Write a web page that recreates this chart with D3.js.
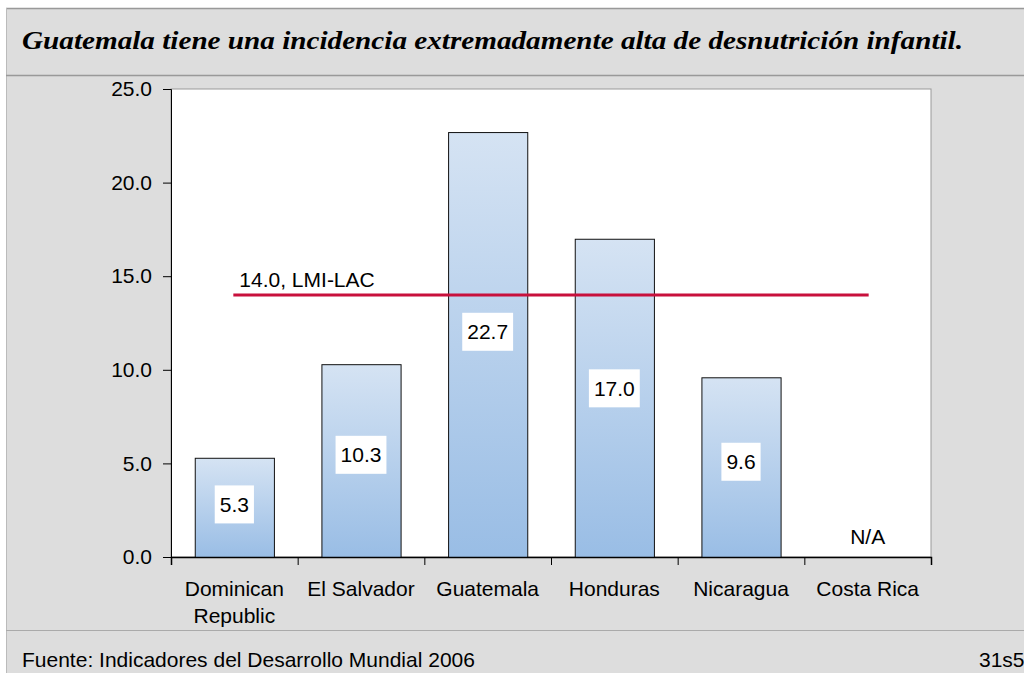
<!DOCTYPE html>
<html>
<head>
<meta charset="utf-8">
<script src="https://cdn.jsdelivr.net/npm/d3@7"></script>
<style>
  html, body { margin: 0; padding: 0; background: #ffffff; }
  svg { display: block; font-family: "Liberation Sans", Arial, sans-serif; }
  .title { font-family: "Liberation Serif", "Times New Roman", Times, serif; font-style: italic; font-weight: bold; }
</style>
</head>
<body>
<div id="chart"></div>
<script>
// Data
const countries = ['Dominican Republic', 'El Salvador', 'Guatemala', 'Honduras', 'Nicaragua', 'Costa Rica'];
const values = [5.3, 10.3, 22.7, 17.0, 9.6, null];
const yTicks = [0, 5, 10, 15, 20, 25];
const refValue = 14.0;
const refLabel = '14.0, LMI-LAC';
const title = 'Guatemala tiene una incidencia extremadamente alta de desnutrición infantil.';
const source = 'Fuente: Indicadores del Desarrollo Mundial 2006';
const pageCode = '31s5';

const width = 1024;
const height = 673;
const plot = { left: 171, right: 931, top: 89, bottom: 557 };
const fontSize = '21px';

const svg = d3.select('#chart')
    .append('svg')
    .attr('width', width)
    .attr('height', height);

// Gradient for bars
const grad = svg.append('defs')
    .append('linearGradient')
    .attr('id', 'barFill')
    .attr('x1', 0).attr('y1', 0)
    .attr('x2', 0).attr('y2', 1);
grad.append('stop').attr('offset', '0%').attr('stop-color', '#d5e3f3');
grad.append('stop').attr('offset', '100%').attr('stop-color', '#99bde5');

// Slide background and frame
svg.append('rect')
    .attr('x', 6).attr('y', 8)
    .attr('width', width - 6).attr('height', height - 8)
    .attr('fill', '#dddddd');
svg.append('line')
    .attr('x1', 6).attr('x2', width).attr('y1', 8.5).attr('y2', 8.5)
    .attr('stroke', '#999999').attr('stroke-width', 1.5);
svg.append('line')
    .attr('x1', 6.5).attr('x2', 6.5).attr('y1', 8).attr('y2', height)
    .attr('stroke', '#bbbbbb').attr('stroke-width', 1);
svg.append('line')
    .attr('x1', 6).attr('x2', width).attr('y1', 75.5).attr('y2', 75.5)
    .attr('stroke', '#999999').attr('stroke-width', 1.5);
svg.append('line')
    .attr('x1', 6).attr('x2', width).attr('y1', 630.5).attr('y2', 630.5)
    .attr('stroke', '#aaaaaa').attr('stroke-width', 1);

// Title
svg.append('text')
    .attr('class', 'title')
    .attr('x', 22)
    .attr('y', 49)
    .attr('textLength', 941)
    .attr('lengthAdjust', 'spacingAndGlyphs')
    .attr('font-size', 25)
    .attr('fill', '#000000')
    .text(title);

// Plot area
svg.append('rect')
    .attr('x', plot.left).attr('y', plot.top)
    .attr('width', plot.right - plot.left).attr('height', plot.bottom - plot.top)
    .attr('fill', '#ffffff')
    .attr('stroke', '#999999').attr('stroke-width', 1);

// Scales
const x = d3.scaleBand()
    .domain(countries)
    .range([plot.left, plot.right])
    .paddingInner(0.375)
    .paddingOuter(0.1875);

const xEdge = d3.scaleLinear()
    .domain([0, countries.length])
    .range([plot.left, plot.right]);

const y = d3.scaleLinear()
    .domain([0, 25])
    .range([plot.bottom, plot.top]);

// Bars
const data = countries.map((c, i) => ({ country: c, value: values[i] }));

svg.selectAll('rect.bar')
    .data(data.filter(d => d.value !== null))
    .enter()
    .append('rect')
    .attr('class', 'bar')
    .attr('x', d => x(d.country) + 0.5)
    .attr('y', d => y(d.value) + 0.5)
    .attr('width', x.bandwidth())
    .attr('height', d => y(0) - y(d.value))
    .attr('fill', 'url(#barFill)')
    .attr('stroke', '#111111')
    .attr('stroke-width', 1);

// Y axis
const yAxis = svg.append('g')
    .attr('transform', `translate(${plot.left}, 0)`)
    .call(d3.axisLeft(y).tickValues(yTicks).tickFormat(d3.format('.1f')).tickSize(8).tickPadding(11));
yAxis.attr('font-family', null);
yAxis.select('.domain').attr('stroke', '#000000');
yAxis.selectAll('.tick line').attr('stroke', '#000000');
yAxis.selectAll('text')
    .style('font-size', fontSize)
    .attr('fill', '#000000');

// X axis (ticks at category edges)
const xAxis = svg.append('g')
    .attr('transform', `translate(0, ${plot.bottom})`)
    .call(d3.axisBottom(xEdge).ticks(countries.length).tickFormat('').tickSize(8).tickSizeOuter(8));
xAxis.select('.domain').attr('stroke', '#000000').attr('stroke-width', 1.5);
xAxis.selectAll('.tick line').attr('stroke', '#000000');

// Category labels
const catLabels = svg.append('g');
countries.forEach(c => {
    const words = c === 'Dominican Republic' ? ['Dominican', 'Republic'] : [c];
    const t = catLabels.append('text')
        .attr('x', x(c) + x.bandwidth() / 2)
        .attr('y', 596)
        .attr('text-anchor', 'middle')
        .style('font-size', fontSize)
        .attr('fill', '#000000');
    words.forEach((w, i) => {
        t.append('tspan')
            .attr('x', x(c) + x.bandwidth() / 2)
            .attr('dy', i === 0 ? 0 : 27)
            .text(w);
    });
});

// Value labels in white boxes
data.forEach(d => {
    const cx = x(d.country) + x.bandwidth() / 2;
    if (d.value === null) {
        svg.append('text')
            .attr('x', cx)
            .attr('y', y(0) - 13)
            .attr('text-anchor', 'middle')
            .style('font-size', fontSize)
            .attr('fill', '#000000')
            .text('N/A');
        return;
    }
    const cy = y(d.value * 0.53);
    const g = svg.append('g');
    const box = g.append('rect').attr('fill', '#ffffff');
    const t = g.append('text')
        .attr('x', cx)
        .attr('y', cy)
        .attr('dy', '0.36em')
        .attr('text-anchor', 'middle')
        .style('font-size', fontSize)
        .attr('fill', '#000000')
        .text(d.value.toFixed(1));
    const w = t.node().getComputedTextLength() + 10;
    box.attr('x', cx - w / 2).attr('y', cy - 19)
        .attr('width', w).attr('height', 38);
});

// Reference line (drawn over the bars)
const first = countries[0];
const last = countries[countries.length - 1];
svg.append('line')
    .attr('x1', x(first) + x.bandwidth() / 2 - 1)
    .attr('x2', x(last) + x.bandwidth() / 2 + 1)
    .attr('y1', y(refValue))
    .attr('y2', y(refValue))
    .attr('stroke', '#c8103c')
    .attr('stroke-width', 3);

svg.append('text')
    .attr('x', x(first) + x.bandwidth() / 2 + 5)
    .attr('y', y(refValue) - 8)
    .style('font-size', fontSize)
    .attr('fill', '#000000')
    .text(refLabel);

// Footer
svg.append('text')
    .attr('x', 22)
    .attr('y', 667)
    .style('font-size', fontSize)
    .attr('fill', '#000000')
    .text(source);

svg.append('text')
    .attr('x', 979)
    .attr('y', 667)
    .style('font-size', fontSize)
    .attr('fill', '#000000')
    .text(pageCode);
</script>
</body>
</html>
